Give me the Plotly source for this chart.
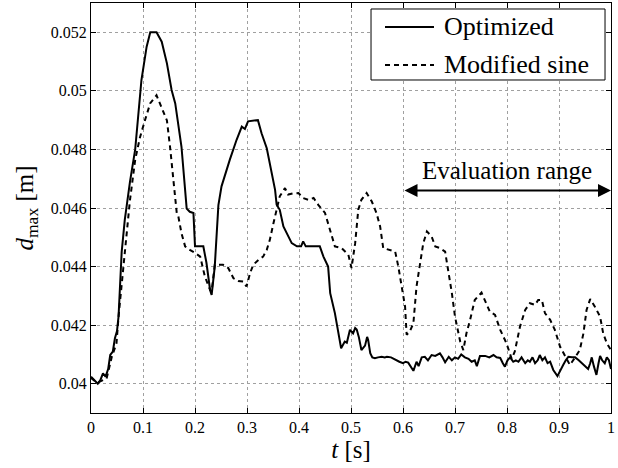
import plotly.graph_objects as go

# ---- data ----
t_opt = [0, 0.005, 0.013, 0.018, 0.023, 0.028, 0.033, 0.037, 0.042, 0.046, 0.05, 0.053,
         0.056, 0.059, 0.065, 0.075, 0.085, 0.097, 0.107, 0.114, 0.126, 0.136, 0.146, 0.155,
         0.162, 0.174, 0.184, 0.19, 0.197, 0.2, 0.216, 0.222, 0.229, 0.232, 0.238, 0.245,
         0.251, 0.26, 0.267, 0.28, 0.29, 0.296, 0.302, 0.321, 0.328, 0.338, 0.347, 0.354,
         0.357, 0.363, 0.37, 0.376, 0.386, 0.396, 0.404, 0.408, 0.413, 0.44, 0.447, 0.456,
         0.46, 0.469, 0.476, 0.481, 0.488, 0.492, 0.498, 0.504, 0.508, 0.511, 0.515, 0.52,
         0.527, 0.531, 0.533, 0.537, 0.541, 0.546, 0.552, 0.559, 0.565, 0.569, 0.577, 0.585,
         0.593, 0.6, 0.605, 0.61, 0.615, 0.62, 0.626, 0.63, 0.636, 0.642, 0.648, 0.655,
         0.662, 0.671, 0.676, 0.681, 0.688, 0.694, 0.7, 0.706, 0.712, 0.719, 0.726, 0.732,
         0.738, 0.742, 0.748, 0.758, 0.766, 0.774, 0.78, 0.787, 0.792, 0.796, 0.801, 0.806,
         0.812, 0.817, 0.822, 0.828, 0.835, 0.84, 0.844, 0.849, 0.854, 0.859, 0.863, 0.868,
         0.873, 0.878, 0.883, 0.889, 0.897, 0.903, 0.908, 0.913, 0.918, 0.925, 0.931, 0.938,
         0.944, 0.95, 0.956, 0.96, 0.963, 0.967, 0.972, 0.976, 0.979, 0.983, 0.988, 0.992,
         0.996, 1.0]
d_opt = [0.04024, 0.04015, 0.04, 0.04012, 0.04035, 0.04024, 0.0405, 0.04098, 0.0411, 0.04155,
         0.0418, 0.0423, 0.0434, 0.0445, 0.0456, 0.0469, 0.0480, 0.05037, 0.05151, 0.052, 0.052,
         0.05168, 0.05094, 0.05003, 0.04957, 0.04809, 0.04598, 0.04587, 0.04583, 0.04469,
         0.04469, 0.04413, 0.0432, 0.04303, 0.044, 0.0461, 0.04674, 0.0473, 0.04765, 0.04833,
         0.04878, 0.0487, 0.04896, 0.049, 0.04855, 0.04804, 0.0473, 0.04662, 0.04611, 0.04594,
         0.04537, 0.04514, 0.0448, 0.04469, 0.04469, 0.04486, 0.04469, 0.04469, 0.04434,
         0.0440, 0.04309, 0.04241, 0.04172, 0.04121, 0.04144, 0.0414, 0.04184, 0.04172, 0.0419,
         0.04185, 0.0416, 0.04115, 0.0413, 0.0416, 0.04149, 0.04104, 0.0409, 0.04087, 0.0409,
         0.04092, 0.0409, 0.04092, 0.0409, 0.04081, 0.04075, 0.0407, 0.04075, 0.04072, 0.0406,
         0.04044, 0.04075, 0.0406, 0.0409, 0.04092, 0.0408, 0.04098, 0.04095, 0.04104, 0.0409,
         0.04073, 0.04092, 0.0408, 0.0409, 0.04085, 0.041, 0.0409, 0.04085, 0.04075, 0.0408,
         0.0406, 0.04095, 0.04095, 0.0409, 0.04098, 0.0409, 0.04088, 0.0407, 0.04058, 0.0408,
         0.0409, 0.04075, 0.0408, 0.04075, 0.0409, 0.0407, 0.0408, 0.04075, 0.0409, 0.0407,
         0.0408, 0.04098, 0.0408, 0.0409, 0.0407, 0.04075, 0.04047, 0.04026, 0.0405, 0.04064,
         0.0408, 0.04092, 0.0409, 0.0409, 0.0408, 0.0407, 0.0406, 0.0405, 0.0407, 0.0409,
         0.0406, 0.0403, 0.0407, 0.04095, 0.0408, 0.0407, 0.0409, 0.0408, 0.0405]

t_ms = [0, 0.01, 0.017, 0.03, 0.04, 0.049, 0.053, 0.059, 0.064, 0.069, 0.075, 0.085, 0.094,
        0.104, 0.114, 0.126, 0.136, 0.146, 0.152, 0.158, 0.165, 0.168, 0.174, 0.181, 0.19,
        0.2, 0.21, 0.219, 0.229, 0.232, 0.238, 0.254, 0.264, 0.274, 0.283, 0.293, 0.299,
        0.306, 0.312, 0.322, 0.331, 0.338, 0.344, 0.351, 0.357, 0.363, 0.373, 0.379, 0.389,
        0.399, 0.408, 0.418, 0.428, 0.437, 0.45, 0.46, 0.469, 0.482, 0.495, 0.501, 0.508,
        0.514, 0.52, 0.53, 0.54, 0.549, 0.556, 0.562, 0.575, 0.585, 0.591, 0.597, 0.604,
        0.607, 0.613, 0.62, 0.626, 0.633, 0.639, 0.646, 0.655, 0.662, 0.671, 0.681, 0.687,
        0.694, 0.7, 0.71, 0.716, 0.722, 0.729, 0.738, 0.751, 0.767, 0.777, 0.787, 0.799,
        0.809, 0.815, 0.825, 0.835, 0.844, 0.854, 0.86, 0.867, 0.873, 0.883, 0.892, 0.902,
        0.912, 0.921, 0.931, 0.94, 0.947, 0.953, 0.96, 0.969, 0.979, 0.985, 0.992, 1.0]
d_ms = [0.0402, 0.04005, 0.04007, 0.04018, 0.04092, 0.04138, 0.0423, 0.04343, 0.04423,
        0.04514, 0.04628, 0.04765, 0.0484, 0.04901, 0.04958, 0.04985, 0.04945, 0.04899,
        0.04809, 0.04706, 0.04581, 0.04571, 0.04514, 0.04469, 0.04457, 0.04447, 0.04434,
        0.04366, 0.0432, 0.04315, 0.04406, 0.04406, 0.04395, 0.0436, 0.04351, 0.04349,
        0.04332, 0.04378, 0.04406, 0.04423, 0.04434, 0.04457, 0.04492, 0.04549, 0.04594,
        0.0464, 0.04668, 0.04646, 0.0465, 0.04651, 0.04634, 0.04628, 0.04634, 0.04611,
        0.04583, 0.04526, 0.04469, 0.04463, 0.0444, 0.04395, 0.0448, 0.04594, 0.04628,
        0.04651, 0.04622, 0.04583, 0.04537, 0.04463, 0.04457, 0.04451, 0.044, 0.04332,
        0.04263, 0.04167, 0.04178, 0.04207, 0.04332, 0.04412, 0.0448, 0.0452, 0.04503,
        0.04469, 0.04463, 0.04451, 0.04389, 0.04309, 0.04229, 0.04144, 0.04115, 0.04172,
        0.04218, 0.04286, 0.04311, 0.04246, 0.04235, 0.04184, 0.04138, 0.04085, 0.0411,
        0.04195, 0.04252, 0.04275, 0.04269, 0.04286, 0.04286, 0.04241, 0.04218, 0.04184,
        0.04127, 0.04092, 0.04064, 0.0409, 0.04115, 0.04172, 0.04252, 0.04289, 0.04263,
        0.04229, 0.04172, 0.04138, 0.04115]

series_names = ["Optimized", "Modified sine"]
series_dash = ["solid", "5px,4px"]
x_ticks = [0, 0.1, 0.2, 0.3, 0.4, 0.5, 0.6, 0.7, 0.8, 0.9, 1]
x_tick_labels = ["0", "0.1", "0.2", "0.3", "0.4", "0.5", "0.6", "0.7", "0.8", "0.9", "1"]
y_ticks = [0.04, 0.042, 0.044, 0.046, 0.048, 0.05, 0.052]
y_tick_labels = ["0.04", "0.042", "0.044", "0.046", "0.048", "0.05", "0.052"]
eval_range = [0.6, 1.0]
eval_label = "Evaluation range"
eval_level = 0.0466

FONT = "Liberation Serif"

fig = go.Figure()
for name, tx, dy, dash in zip(series_names, [t_opt, t_ms], [d_opt, d_ms], series_dash):
    fig.add_trace(go.Scatter(x=tx, y=dy, mode="lines", name=name, showlegend=False,
                             line=dict(color="black", width=2, dash=dash)))

axis_common = dict(showline=True, linecolor="black", linewidth=1, mirror="ticks",
                   ticks="inside", ticklen=5, tickcolor="black", automargin=False,
                   showgrid=True, gridcolor="#a0a0a0", griddash="dot", gridwidth=1,
                   zeroline=False, tickfont=dict(family=FONT, size=16, color="black"))

fig.update_xaxes(range=[0, 1], tickvals=x_ticks, ticktext=x_tick_labels,
                 title=dict(text="<i>t</i> [s]", font=dict(family=FONT, size=25, color="black"),
                            standoff=0),
                 **axis_common)
fig.update_yaxes(range=[0.039, 0.053], tickvals=y_ticks, ticktext=y_tick_labels,
                 title=dict(text="<i>d</i><sub>max</sub> [m]",
                            font=dict(family=FONT, size=25, color="black"), standoff=10),
                 **axis_common)

# evaluation range arrow + label
fig.add_annotation(x=eval_range[1], y=eval_level, ax=eval_range[0], ay=eval_level,
                   xref="x", yref="y", axref="x", ayref="y", text="",
                   showarrow=True, arrowhead=2, arrowside="end+start",
                   arrowsize=1.3, arrowwidth=2, arrowcolor="black", standoff=0, startstandoff=0)
fig.add_annotation(x=(eval_range[0] + eval_range[1]) / 2, y=eval_level, xref="x", yref="y",
                   text=eval_label, showarrow=False, yshift=20,
                   font=dict(family=FONT, size=25, color="black"))

# legend box (MATLAB-style), drawn in paper coordinates
leg_x0, leg_x1, leg_y0, leg_y1 = 0.5385, 0.9885, 0.8122, 0.9854
fig.add_shape(type="rect", xref="paper", yref="paper", x0=leg_x0, x1=leg_x1,
              y0=leg_y0, y1=leg_y1, line=dict(color="black", width=1), fillcolor="white",
              layer="above")
row_y = [0.9415, 0.8488]
for name, dash, ry in zip(series_names, series_dash, row_y):
    fig.add_shape(type="line", xref="paper", yref="paper", x0=0.5654, x1=0.6596,
                  y0=ry, y1=ry, line=dict(color="black", width=2, dash=dash), layer="above")
    fig.add_annotation(x=0.675, y=ry, xref="paper", yref="paper", text=name,
                       showarrow=False, xanchor="left", yanchor="middle",
                       font=dict(family=FONT, size=26, color="black"))

fig.update_layout(
    width=618, height=468,
    margin=dict(l=91, r=7, t=3, b=55),
    paper_bgcolor="white", plot_bgcolor="white",
    font=dict(family=FONT, color="black"),
    showlegend=False,
)

fig.write_html("out.html", config={"displayModeBar": False},
               post_script="document.body.style.margin='0';document.body.style.padding='0';"
                           "document.body.style.overflow='hidden';")
